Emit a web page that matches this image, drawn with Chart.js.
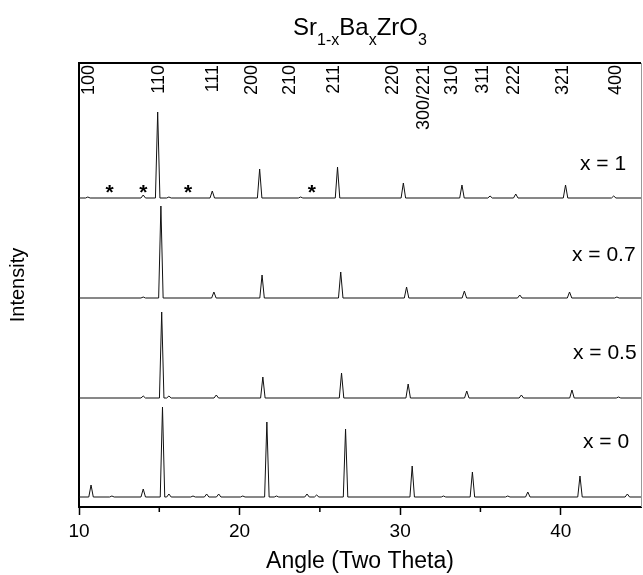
<!DOCTYPE html>
<html>
<head>
<meta charset="utf-8">
<script src="https://cdn.jsdelivr.net/npm/chart.js@4"></script>
<style>
  html, body { margin: 0; padding: 0; background: #fff; }
</style>
</head>
<body>
<canvas id="xrd" width="643" height="575"></canvas>
<script>
// XRD patterns, Sr(1-x)Ba(x)ZrO3 (arb. units)
const compositions = ['x = 0', 'x = 0.5', 'x = 0.7', 'x = 1'];
const baselines = [10, 109, 209, 309];

const peaksX0 = [10.75, 12.05, 14.0, 15.2, 15.6, 17.1, 17.95, 18.7, 20.2, 21.7, 22.3, 24.2, 24.8, 26.6, 30.75, 32.7, 34.5, 36.7, 37.95, 41.2, 44.15];
const heightsX0 = [12, 1, 8, 90, 3, 1, 3, 3, 1, 75, 1, 3, 2, 68, 31, 1, 25, 1, 5, 21, 3];

const peaksX05 = [14.0, 15.15, 15.6, 18.55, 21.45, 26.35, 30.5, 34.15, 37.55, 40.7, 43.6];
const heightsX05 = [2, 86, 2, 3, 21, 25, 14, 7, 3, 8, 1];

const peaksX07 = [14.0, 15.1, 18.4, 21.4, 26.3, 30.4, 34.0, 37.45, 40.55, 43.5];
const heightsX07 = [1, 92, 6, 23, 26, 11, 7, 3, 6, 1];

const peaksX1 = [10.55, 14.0, 14.9, 15.6, 18.3, 21.25, 23.8, 26.1, 30.2, 33.85, 35.6, 37.2, 40.3, 43.3];
const heightsX1 = [1, 3, 86, 1, 7, 29, 1, 31, 15, 13, 2, 4, 13, 2];

// impurity reflections marked with * on the x = 1 pattern
const impurityPos = [11.9, 14.0, 16.8, 24.5];
const impurityLevel = 320;

// Miller indices across the top
const hklLabels = ['100', '110', '111', '200', '210', '211', '220', '300/221', '310', '311', '222', '321', '400'];
const hklPos = [10.55, 14.95, 18.3, 20.7, 23.1, 25.8, 29.5, 31.4, 33.2, 35.1, 37.0, 40.1, 43.4];

const xTicks = [10, 20, 30, 40];
const xMinorTicks = [15, 25, 35];

const PEAK_HALF = 0.14;
const FONT = '"Liberation Sans", Arial, Helvetica, sans-serif';

function buildTrace(pos, h, base) {
    const pts = [{ x: 10, y: base }];
    pos.forEach((p, i) => {
        pts.push({ x: p - PEAK_HALF, y: base });
        pts.push({ x: p, y: base + h[i] });
        pts.push({ x: p + PEAK_HALF, y: base });
    });
    pts.push({ x: 45, y: base });
    return pts;
}

const traces = [
    buildTrace(peaksX0, heightsX0, baselines[0]),
    buildTrace(peaksX05, heightsX05, baselines[1]),
    buildTrace(peaksX07, heightsX07, baselines[2]),
    buildTrace(peaksX1, heightsX1, baselines[3])
];

// label placement (px) for the composition tags
const tagPlace = [
    { left: 583, cy: 442 },
    { left: 573, cy: 353 },
    { left: 572, cy: 255 },
    { left: 580, cy: 164 }
];

const decorPlugin = {
    id: 'decor',
    afterDraw(chart) {
        const ctx = chart.ctx;
        const area = chart.chartArea;
        const xs = chart.scales.x;
        const ys = chart.scales.y;
        ctx.save();

        // frame: top and right
        ctx.strokeStyle = '#000';
        ctx.lineWidth = 2;
        ctx.beginPath();
        ctx.moveTo(area.left - 1, area.top);
        ctx.lineTo(area.right, area.top);
        ctx.stroke();
        ctx.strokeStyle = '#999';
        ctx.lineWidth = 1;
        ctx.beginPath();
        ctx.moveTo(area.right + 0.5, area.top);
        ctx.lineTo(area.right + 0.5, area.bottom);
        ctx.stroke();

        // short minor ticks
        ctx.strokeStyle = '#000';
        ctx.lineWidth = 1.5;
        xMinorTicks.forEach(v => {
            const px = xs.getPixelForValue(v);
            ctx.beginPath();
            ctx.moveTo(px, area.bottom);
            ctx.lineTo(px, area.bottom + 5);
            ctx.stroke();
        });

        // title with subscripts
        const parts = [
            ['Sr', 24, 0], ['1-x', 16, 10], ['Ba', 24, 0], ['x', 16, 10],
            ['ZrO', 24, 0], ['3', 16, 10]
        ];
        let total = 0;
        parts.forEach(p => {
            ctx.font = p[1] + 'px ' + FONT;
            total += ctx.measureText(p[0]).width;
        });
        let tx = 360 - total / 2;
        ctx.fillStyle = '#000';
        ctx.textBaseline = 'alphabetic';
        ctx.textAlign = 'left';
        parts.forEach(p => {
            ctx.font = p[1] + 'px ' + FONT;
            ctx.fillText(p[0], tx, 35 + p[2]);
            tx += ctx.measureText(p[0]).width;
        });

        // hkl labels, rotated
        ctx.font = '18px ' + FONT;
        hklLabels.forEach((lab, i) => {
            const px = xs.getPixelForValue(hklPos[i]);
            ctx.save();
            ctx.translate(px, area.top + 2);
            ctx.rotate(-Math.PI / 2);
            ctx.textAlign = 'right';
            ctx.textBaseline = 'middle';
            ctx.fillText(lab, 0, 1);
            ctx.restore();
        });

        // impurity stars
        ctx.font = 'bold 21px ' + FONT;
        ctx.textAlign = 'center';
        ctx.textBaseline = 'alphabetic';
        impurityPos.forEach(p => {
            ctx.fillText('*', xs.getPixelForValue(p), ys.getPixelForValue(impurityLevel) + 12);
        });

        // composition tags
        ctx.font = '21px ' + FONT;
        ctx.textAlign = 'left';
        ctx.textBaseline = 'middle';
        compositions.forEach((c, i) => {
            ctx.fillText(c, tagPlace[i].left, tagPlace[i].cy);
        });

        ctx.restore();
    }
};

new Chart(document.getElementById('xrd'), {
    type: 'line',
    data: {
        datasets: traces.map((t, i) => ({
            label: compositions[i],
            data: t,
            borderColor: '#111',
            borderWidth: 1,
            pointRadius: 0,
            tension: 0,
            fill: false
        }))
    },
    options: {
        responsive: false,
        animation: false,
        events: [],
        layout: { padding: { top: 63, right: 2, left: 0, bottom: 0 } },
        plugins: {
            legend: { display: false },
            tooltip: { enabled: false },
            title: { display: false }
        },
        scales: {
            x: {
                type: 'linear',
                min: 10,
                max: 45,
                afterFit: s => { s.height = 68; },
                afterBuildTicks: s => {
                    s.ticks = xTicks.map(v => ({ value: v }));
                },
                ticks: {
                    color: '#000',
                    padding: 5,
                    maxRotation: 0,
                    font: { family: FONT, size: 19 }
                },
                grid: {
                    drawOnChartArea: false,
                    drawTicks: true,
                    tickLength: 8,
                    tickColor: '#000',
                    tickWidth: 1.5
                },
                border: { display: true, color: '#000', width: 2 },
                title: {
                    display: true,
                    text: 'Angle (Two Theta)',
                    color: '#000',
                    font: { family: FONT, size: 23 },
                    padding: { top: 0, bottom: 0 }
                }
            },
            y: {
                min: 0,
                max: 444,
                afterFit: s => { s.width = 79; },
                ticks: { display: false },
                grid: { display: false, drawTicks: false },
                border: { display: true, color: '#000', width: 2 },
                title: {
                    display: true,
                    text: 'Intensity',
                    color: '#000',
                    font: { family: FONT, size: 20 },
                    padding: { top: 6, bottom: 0 }
                }
            }
        }
    },
    plugins: [decorPlugin]
});
</script>
</body>
</html>
